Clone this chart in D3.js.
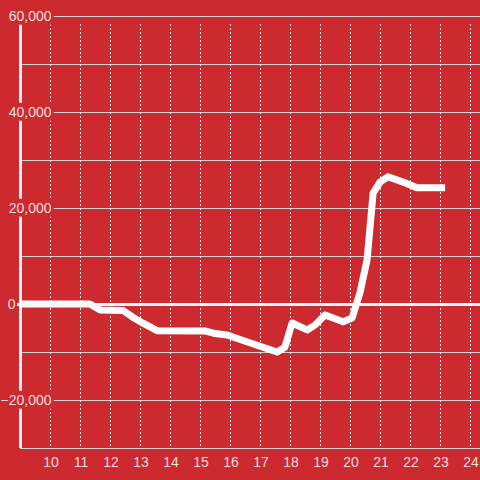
<!DOCTYPE html>
<html><head><meta charset="utf-8">
<script src="https://cdn.jsdelivr.net/npm/d3@7"></script>
<style>html,body{margin:0;padding:0;background:#cc2a2f;}svg{display:block;}</style>
</head><body>
<script>
const hours = [9, 11.33, 11.67, 12.43, 12.77, 13.1, 13.57, 15.17, 15.5, 15.9, 17.0, 17.57, 17.83, 18.07, 18.57, 18.83, 19.17, 19.77, 20.07, 20.33, 20.57, 20.77, 21.0, 21.27, 21.77, 22.23, 23.17];
const values = [0, 0, -1250, -1350, -2800, -4000, -5550, -5600, -6150, -6450, -8800, -10000, -9000, -3950, -5400, -4400, -2300, -3700, -2900, 2300, 9200, 23100, 25400, 26500, 25400, 24200, 24200];
const xTicks = [10, 11, 12, 13, 14, 15, 16, 17, 18, 19, 20, 21, 22, 23, 24];
const yGrid = [60000, 50000, 40000, 30000, 20000, 10000, 0, -10000, -20000, -30000];
const yLabels = [60000, 40000, 20000, 0, -20000];

const W = 480, H = 480;
const BG = "#cc2a2f";
const svg = d3.select("body").append("svg").attr("width", W).attr("height", H);
svg.append("rect").attr("width", W).attr("height", H).attr("fill", BG);

const x = d3.scaleLinear().domain([9, 24]).range([20, 470]);
const y = d3.scaleLinear().domain([-30000, 60000]).range([448, 16]);

// horizontal grid
svg.append("g").selectAll("line").data(yGrid.filter(d => d !== 0)).join("line")
  .attr("x1", 20).attr("x2", W).attr("y1", d => y(d) + 0.5).attr("y2", d => y(d) + 0.5)
  .attr("stroke", "#d4d4d4").attr("stroke-width", 1);

// vertical dashed grid
svg.append("g").selectAll("line").data(xTicks).join("line")
  .attr("x1", d => x(d) + 0.5).attr("x2", d => x(d) + 0.5).attr("y1", 24).attr("y2", 448)
  .attr("stroke", "#e8e8e8").attr("stroke-width", 1).attr("stroke-dasharray", "2,2");

// y axis line
svg.append("line").attr("x1", 20.5).attr("x2", 20.5).attr("y1", 24).attr("y2", 448)
  .attr("stroke", "#f2f2f2").attr("stroke-width", 3);

// data line
const pts = hours.map((h, i) => [h, values[i]]);
svg.append("path").datum(pts)
  .attr("d", d3.line().x(d => x(d[0])).y(d => y(d[1])))
  .attr("fill", "none").attr("stroke", "#ffffff").attr("stroke-width", 7)
  .attr("stroke-linejoin", "round").attr("stroke-linecap", "butt");

// zero line
svg.append("line").attr("x1", 17).attr("x2", W).attr("y1", y(0) + 0.5).attr("y2", y(0) + 0.5)
  .attr("stroke", "#f7f7f7").attr("stroke-width", 3);

// y labels with background
const fmt = d3.format(",");
const yl = svg.append("g").selectAll("g").data(yLabels).join("g");
yl.append("text")
  .attr("x", d => d === 0 ? 15.5 : 51.5).attr("y", d => y(d) + 1)
  .attr("text-anchor", "end").attr("dominant-baseline", "middle")
  .attr("font-family", "Liberation Sans, Arial, sans-serif").attr("font-size", 14)
  .attr("fill", "#f4dede")
  .text(d => fmt(d))
  .each(function(d) {
    if (d === 0) return;
    const b = this.getBBox();
    d3.select(this.parentNode).insert("rect", "text")
      .attr("x", b.x - 1).attr("y", b.y - 1).attr("width", b.width + 3).attr("height", b.height + 2)
      .attr("fill", BG);
  });

// x labels
svg.append("g").selectAll("text").data(xTicks).join("text")
  .attr("x", d => x(d) + 1).attr("y", 467)
  .attr("text-anchor", "middle")
  .attr("font-family", "Liberation Sans, Arial, sans-serif").attr("font-size", 14)
  .attr("fill", "#f4dede")
  .text(d => d);
</script>
</body></html>
